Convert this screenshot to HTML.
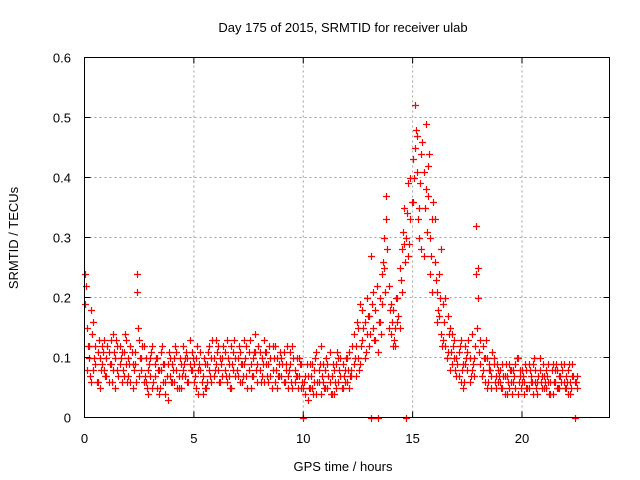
<!DOCTYPE html>
<html><head><meta charset="utf-8"><style>
body{margin:0;background:#fff}
svg{display:block;font-family:"Liberation Sans",sans-serif}
</style></head><body>
<svg id="chart" width="640" height="480" viewBox="0 0 640 480">
<rect width="640" height="480" fill="#fff"/>
<text x="343" y="32" font-size="13" text-anchor="middle">Day 175 of 2015, SRMTID for receiver ulab</text>
<g id="grid"></g>
<g id="marks"></g>
<rect x="84.5" y="57.5" width="525" height="360" fill="none" stroke="#000" stroke-width="1"/>
<g id="axes"></g>
<text x="343" y="471" font-size="13" text-anchor="middle">GPS time / hours</text>
<text transform="translate(18,238) rotate(-90)" font-size="13" text-anchor="middle">SRMTID / TECUs</text>
</svg>
<script>
const xTicks=[0,5,10,15,20];
const yTicks=[0,0.1,0.2,0.3,0.4,0.5,0.6];
const yTickLabels=["0","0.1","0.2","0.3","0.4","0.5","0.6"];
const hours=[0.0,0.1,0.2,0.3,0.4,0.5,0.6,0.7,0.8,0.9,1.0,1.1,1.2,1.3,1.4,1.5,1.6,1.7,1.8,1.9,2.0,2.1,2.2,2.3,2.4,2.5,2.6,2.7,2.8,2.9,3.0,3.1,3.2,3.3,3.4,3.5,3.6,3.7,3.8,3.9,4.0,4.1,4.2,4.3,4.4,4.5,4.6,4.7,4.8,4.9,5.0,5.1,5.2,5.3,5.4,5.5,5.6,5.7,5.8,5.9,6.0,6.1,6.2,6.3,6.4,6.5,6.6,6.7,6.8,6.9,7.0,7.1,7.2,7.3,7.4,7.5,7.6,7.7,7.8,7.9,8.0,8.1,8.2,8.3,8.4,8.5,8.6,8.7,8.8,8.9,9.0,9.1,9.2,9.3,9.4,9.5,9.6,9.7,9.8,9.9,10.0,10.1,10.2,10.3,10.4,10.5,10.6,10.7,10.8,10.9,11.0,11.1,11.2,11.3,11.4,11.5,11.6,11.7,11.8,11.9,12.0,12.1,12.2,12.3,12.4,12.5,12.6,12.7,12.8,12.9,13.0,13.1,13.2,13.3,13.4,13.5,13.6,13.7,13.8,13.9,14.0,14.1,14.2,14.3,14.4,14.5,14.6,14.7,14.8,14.9,15.0,15.1,15.2,15.3,15.4,15.5,15.6,15.7,15.8,15.9,16.0,16.1,16.2,16.3,16.4,16.5,16.6,16.7,16.8,16.9,17.0,17.1,17.2,17.3,17.4,17.5,17.6,17.7,17.8,17.9,18.0,18.1,18.2,18.3,18.4,18.5,18.6,18.7,18.8,18.9,19.0,19.1,19.2,19.3,19.4,19.5,19.6,19.7,19.8,19.9,20.0,20.1,20.2,20.3,20.4,20.5,20.6,20.7,20.8,20.9,21.0,21.1,21.2,21.3,21.4,21.5,21.6,21.7,21.8,21.9,22.0,22.1,22.2,22.3,22.4,22.5];
const hoursC=[0.05,0.15,0.25,0.35,0.45,0.55,0.65,0.75,0.85,0.95,1.05,1.15,1.25,1.35,1.45,1.55,1.65,1.75,1.85,1.95,2.05,2.15,2.25,2.35,2.45,2.55,2.65,2.75,2.85,2.95,3.05,3.15,3.25,3.35,3.45,3.55,3.65,3.75,3.85,3.95,4.05,4.15,4.25,4.35,4.45,4.55,4.65,4.75,4.85,4.95,5.05,5.15,5.25,5.35,5.45,5.55,5.65,5.75,5.85,5.95,6.05,6.15,6.25,6.35,6.45,6.55,6.65,6.75,6.85,6.95,7.05,7.15,7.25,7.35,7.45,7.55,7.65,7.75,7.85,7.95,8.05,8.15,8.25,8.35,8.45,8.55,8.65,8.75,8.85,8.95,9.05,9.15,9.25,9.35,9.45,9.55,9.65,9.75,9.85,9.95,10.05,10.15,10.25,10.35,10.45,10.55,10.65,10.75,10.85,10.95,11.05,11.15,11.25,11.35,11.45,11.55,11.65,11.75,11.85,11.95,12.05,12.15,12.25,12.35,12.45,12.55,12.65,12.75,12.85,12.95,13.05,13.15,13.25,13.35,13.45,13.55,13.65,13.75,13.85,13.95,14.05,14.15,14.25,14.35,14.45,14.55,14.65,14.75,14.85,14.95,15.05,15.15,15.25,15.35,15.45,15.55,15.65,15.75,15.85,15.95,16.05,16.15,16.25,16.35,16.45,16.55,16.65,16.75,16.85,16.95,17.05,17.15,17.25,17.35,17.45,17.55,17.65,17.75,17.85,17.95,18.05,18.15,18.25,18.35,18.45,18.55,18.65,18.75,18.85,18.95,19.05,19.15,19.25,19.35,19.45,19.55,19.65,19.75,19.85,19.95,20.05,20.15,20.25,20.35,20.45,20.55,20.65,20.75,20.85,20.95,21.05,21.15,21.25,21.35,21.45,21.55,21.65,21.75,21.85,21.95,22.05,22.15,22.25,22.35,22.45];
const srmtidA=[.24,.15,.10,.18,.08,.12,.06,.10,.09,.13,
.07,.11,.09,.14,.10,.08,.12,.06,.11,.09,
.07,.12,.05,.09,.24,.13,.08,.06,.10,.04,
.07,.12,.09,.05,.08,.11,.06,.04,.09,.07,
.06,.10,.08,.05,.09,.12,.07,.10,.13,.08,
.06,.10,.04,.08,.07,.05,.09,.12,.06,.10,
.13,.08,.10,.07,.11,.06,.09,.12,.08,.10,
.07,.11,.06,.09,.12,.08,.05,.10,.14,.09,
.11,.07,.13,.09,.06,.10,.08,.12,.05,.09,
.07,.11,.08,.05,.09,.12,.06,.10,.07,.09,
.00,.04,.07,.05,.09,.06,.04,.08,.12,.06,
.08,.05,.11,.07,.04,.09,.06,.10,.05,.08,
.06,.11,.08,.14,.07,.10,.19,.13,.16,.20,
.12,.27,.15,.18,.11,.20,.24,.30,.37,.22,
.14,.18,.12,.16,.25,.28,.35,.30,.39,.33,
.43,.52,.47,.35,.28,.41,.49,.37,.30,.33,
.26,.21,.17,.28,.13,.20,.11,.15,.09,.13,
.07,.11,.06,.09,.12,.08,.10,.14,.07,.32,
.25,.09,.12,.06,.10,.08,.05,.09,.07,.06,
.08,.05,.07,.04,.09,.06,.08,.05,.10,.07,
.06,.04,.08,.05,.07,.09,.06,.04,.08,.05,
.07,.05,.09,.06,.04,.08,.05,.07,.09,.06,
.05,.08,.04,.07,.06,.05];
const srmtidB=[.19,.08,.12,.06,.16,.09,.11,.05,.12,.08,
.10,.06,.13,.08,.05,.12,.09,.11,.07,.13,
.10,.06,.09,.11,.21,.07,.10,.12,.06,.08,
.10,.05,.07,.10,.04,.08,.09,.06,.03,.10,
.09,.06,.11,.07,.05,.08,.10,.06,.09,.11,
.09,.05,.08,.11,.04,.09,.06,.08,.10,.07,
.09,.12,.06,.10,.08,.13,.07,.05,.11,.07,
.10,.06,.09,.13,.07,.11,.09,.07,.11,.06,
.08,.10,.06,.11,.09,.07,.12,.06,.10,.07,
.10,.06,.09,.07,.11,.05,.08,.07,.10,.05,
.05,.07,.03,.09,.05,.08,.11,.06,.04,.09,
.05,.09,.06,.04,.08,.05,.10,.07,.09,.06,
.10,.05,.07,.09,.12,.15,.09,.18,.10,.14,
.17,.00,.21,.13,.00,.16,.19,.25,.33,.15,
.19,.12,.15,.20,.15,.21,.29,.00,.27,.40,
.36,.45,.41,.30,.44,.27,.38,.42,.24,.21,
.33,.16,.24,.14,.19,.12,.17,.08,.14,.10,
.10,.07,.13,.05,.09,.11,.06,.08,.10,.24,
.20,.13,.08,.10,.05,.09,.07,.10,.05,.08,
.06,.09,.04,.07,.05,.08,.06,.09,.04,.08,
.08,.06,.05,.09,.06,.04,.08,.06,.10,.07,
.05,.08,.06,.04,.09,.06,.08,.05,.06,.09,
.07,.04,.06,.09,.00,.07];
const srmtidC=[.22,.12,.07,.14,.10,.06,.13,.08,.11,.07,
.12,.09,.06,.11,.13,.07,.10,.08,.14,.06,
.09,.11,.08,.06,.15,.10,.12,.07,.05,.09,
.11,.06,.10,.08,.05,.12,.09,.07,.11,.06,
.08,.12,.05,.10,.07,.09,.11,.06,.08,.10,
.07,.12,.09,.06,.10,.05,.11,.07,.13,.08,
.11,.06,.09,.12,.07,.10,.05,.09,.13,.08,
.12,.09,.07,.10,.05,.13,.07,.11,.08,.12,
.06,.09,.11,.07,.12,.05,.10,.08,.07,.11,
.09,.06,.12,.08,.06,.10,.07,.05,.09,.06,
.06,.09,.05,.07,.04,.10,.06,.09,.07,.05,
.10,.07,.04,.09,.06,.11,.08,.05,.07,.10,
.08,.07,.12,.10,.16,.08,.12,.15,.11,.17,
.14,.19,.13,.22,.16,.14,.26,.21,.28,.18,
.16,.13,.20,.17,.23,.31,.26,.34,.29,.36,
.40,.48,.33,.39,.46,.35,.31,.44,.27,.36,
.23,.18,.20,.12,.16,.10,.14,.11,.12,.08,
.09,.12,.08,.06,.10,.13,.07,.09,.12,.15,
.11,.07,.10,.13,.06,.08,.11,.06,.09,.07,
.05,.07,.09,.06,.08,.04,.07,.10,.06,.05,
.07,.09,.05,.08,.06,.10,.05,.07,.06,.09,
.06,.07,.04,.08,.06,.09,.05,.07,.08,.05,
.06,.09,.05,.07,.06];
const NS="http://www.w3.org/2000/svg";
const X0=84.5,X1=609.5,Y0=417.5,Y1=57.5,XMAX=24,YMAX=0.6;
function xs(h){return X0+(X1-X0)*h/XMAX;}
function ys(v){return Y0-(Y0-Y1)*v/YMAX;}
function mk(tag,attrs,parent){const e=document.createElementNS(NS,tag);for(const k in attrs)e.setAttribute(k,attrs[k]);parent.appendChild(e);return e;}
const grid=document.getElementById('grid'),axes=document.getElementById('axes'),marks=document.getElementById('marks');
xTicks.forEach(t=>{
  const x=xs(t);
  if(t>0){const g=mk('line',{x1:x,y1:Y0,x2:x,y2:Y1,stroke:'#a0a0a0','stroke-dasharray':'2,3'},grid);
  
  }
  mk('line',{x1:x,y1:Y0,x2:x,y2:Y0-6,stroke:'#000'},axes);
  mk('line',{x1:x,y1:Y1,x2:x,y2:Y1+6,stroke:'#000'},axes);
  const l=mk('text',{x:x,y:443,'font-size':13,'text-anchor':'middle'},axes);
  l.textContent=t;
  
  
});
yTicks.forEach((t,i)=>{
  const y=ys(t);
  if(t>0&&t<YMAX){const g=mk('line',{x1:X0,y1:y,x2:X1,y2:y,stroke:'#a0a0a0','stroke-dasharray':'2,3'},grid);
  
  }
  mk('line',{x1:X0,y1:y,x2:X0+6,y2:y,stroke:'#000'},axes);
  mk('line',{x1:X1,y1:y,x2:X1-6,y2:y,stroke:'#000'},axes);
  const l=mk('text',{x:71,y:y+5,'font-size':13,'text-anchor':'end'},axes);
  l.textContent=yTickLabels[i];
  
  
});
function plot(hs,vals){
  hs.forEach((h,i)=>{
    const v=vals[i]; if(v===undefined)return;
    const x=Math.round(xs(h))+0.5,y=Math.round(ys(v))+0.5;
    const p=mk('path',{d:`M${x-3.5},${y}H${x+3.5}M${x},${y-3.5}V${y+3.5}`,stroke:'#f00','stroke-width':1.2,fill:'none'},marks);
    
    
  });
}
plot(hours,srmtidA);plot(hours,srmtidB);plot(hoursC,srmtidC);
</script>
</body></html>
